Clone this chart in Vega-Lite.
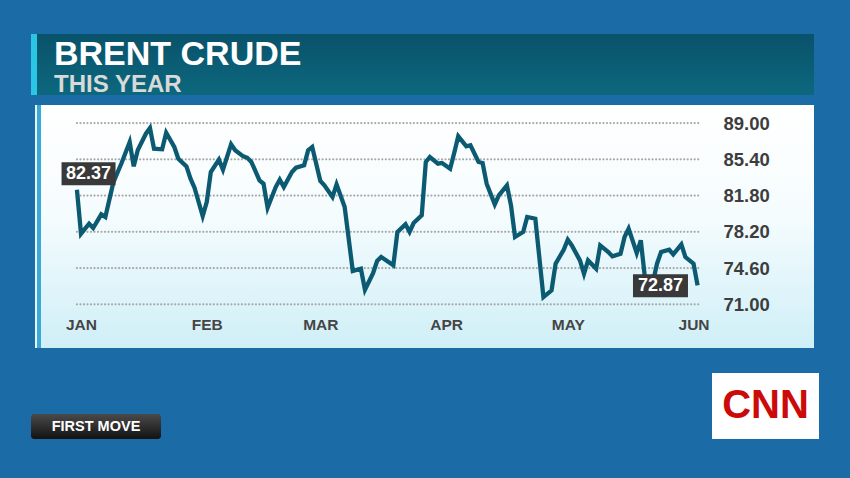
{
  "$schema": "https://vega.github.io/schema/vega-lite/v6.json",
  "background": "#1b6ca6",
  "padding": {"left": 31, "top": 34, "right": 40, "bottom": 50},
  "spacing": 8,
  "config": {
    "view": {"stroke": null},
    "font": "Liberation Sans"
  },
  "datasets": {
    "brent": [
      {"date": "2022-12-31", "price": 82.37},
      {"date": "2023-01-01", "price": 78.01},
      {"date": "2023-01-03", "price": 79.0},
      {"date": "2023-01-04", "price": 78.57},
      {"date": "2023-01-06", "price": 79.93},
      {"date": "2023-01-07", "price": 79.67},
      {"date": "2023-01-09", "price": 83.14},
      {"date": "2023-01-11", "price": 85.03},
      {"date": "2023-01-13", "price": 87.11},
      {"date": "2023-01-14", "price": 84.70},
      {"date": "2023-01-15", "price": 86.32},
      {"date": "2023-01-17", "price": 87.94},
      {"date": "2023-01-18", "price": 88.50},
      {"date": "2023-01-19", "price": 86.45},
      {"date": "2023-01-21", "price": 86.39},
      {"date": "2023-01-22", "price": 88.04},
      {"date": "2023-01-24", "price": 86.62},
      {"date": "2023-01-25", "price": 85.45},
      {"date": "2023-01-27", "price": 84.70},
      {"date": "2023-01-28", "price": 83.47},
      {"date": "2023-01-29", "price": 82.55},
      {"date": "2023-01-31", "price": 79.76},
      {"date": "2023-02-01", "price": 81.15},
      {"date": "2023-02-02", "price": 84.13},
      {"date": "2023-02-04", "price": 85.36},
      {"date": "2023-02-05", "price": 84.36},
      {"date": "2023-02-07", "price": 86.88},
      {"date": "2023-02-08", "price": 86.29},
      {"date": "2023-02-10", "price": 85.69},
      {"date": "2023-02-11", "price": 85.55},
      {"date": "2023-02-12", "price": 85.13},
      {"date": "2023-02-14", "price": 83.31},
      {"date": "2023-02-15", "price": 82.97},
      {"date": "2023-02-16", "price": 80.59},
      {"date": "2023-02-18", "price": 82.64},
      {"date": "2023-02-19", "price": 83.37},
      {"date": "2023-02-20", "price": 82.64},
      {"date": "2023-02-22", "price": 84.13},
      {"date": "2023-02-23", "price": 84.56},
      {"date": "2023-02-25", "price": 84.80},
      {"date": "2023-02-26", "price": 86.29},
      {"date": "2023-02-27", "price": 86.62},
      {"date": "2023-03-01", "price": 83.24},
      {"date": "2023-03-02", "price": 82.81},
      {"date": "2023-03-04", "price": 81.65},
      {"date": "2023-03-05", "price": 82.91},
      {"date": "2023-03-07", "price": 80.66},
      {"date": "2023-03-09", "price": 74.30},
      {"date": "2023-03-11", "price": 74.53},
      {"date": "2023-03-12", "price": 72.45},
      {"date": "2023-03-14", "price": 74.10},
      {"date": "2023-03-15", "price": 75.30},
      {"date": "2023-03-16", "price": 75.69},
      {"date": "2023-03-17", "price": 75.43},
      {"date": "2023-03-19", "price": 74.87},
      {"date": "2023-03-20", "price": 78.18},
      {"date": "2023-03-22", "price": 78.94},
      {"date": "2023-03-23", "price": 78.18},
      {"date": "2023-03-24", "price": 79.07},
      {"date": "2023-03-26", "price": 79.83},
      {"date": "2023-03-27", "price": 85.13},
      {"date": "2023-03-28", "price": 85.62},
      {"date": "2023-03-30", "price": 84.96},
      {"date": "2023-03-31", "price": 85.03},
      {"date": "2023-04-02", "price": 84.46},
      {"date": "2023-04-03", "price": 86.02},
      {"date": "2023-04-04", "price": 87.68},
      {"date": "2023-04-06", "price": 86.69},
      {"date": "2023-04-07", "price": 86.79},
      {"date": "2023-04-09", "price": 85.13},
      {"date": "2023-04-10", "price": 85.03},
      {"date": "2023-04-11", "price": 82.97},
      {"date": "2023-04-13", "price": 80.92},
      {"date": "2023-04-14", "price": 81.82},
      {"date": "2023-04-16", "price": 82.81},
      {"date": "2023-04-17", "price": 80.83},
      {"date": "2023-04-18", "price": 77.68},
      {"date": "2023-04-20", "price": 78.18},
      {"date": "2023-04-21", "price": 79.67},
      {"date": "2023-04-23", "price": 79.50},
      {"date": "2023-04-25", "price": 71.72},
      {"date": "2023-04-27", "price": 72.39},
      {"date": "2023-04-28", "price": 75.03},
      {"date": "2023-04-30", "price": 76.42},
      {"date": "2023-05-01", "price": 77.41},
      {"date": "2023-05-02", "price": 76.85},
      {"date": "2023-05-04", "price": 75.36},
      {"date": "2023-05-05", "price": 74.03},
      {"date": "2023-05-06", "price": 75.36},
      {"date": "2023-05-08", "price": 74.53},
      {"date": "2023-05-09", "price": 76.85},
      {"date": "2023-05-11", "price": 76.19},
      {"date": "2023-05-12", "price": 75.76},
      {"date": "2023-05-14", "price": 76.02},
      {"date": "2023-05-15", "price": 77.68},
      {"date": "2023-05-16", "price": 78.51},
      {"date": "2023-05-18", "price": 76.09},
      {"date": "2023-05-19", "price": 77.35},
      {"date": "2023-05-20", "price": 73.70},
      {"date": "2023-05-22", "price": 73.20},
      {"date": "2023-05-23", "price": 75.03},
      {"date": "2023-05-24", "price": 76.19},
      {"date": "2023-05-26", "price": 76.42},
      {"date": "2023-05-27", "price": 75.96},
      {"date": "2023-05-29", "price": 76.95},
      {"date": "2023-05-30", "price": 75.69},
      {"date": "2023-06-01", "price": 75.03},
      {"date": "2023-06-02", "price": 72.87}
    ],
    "grid": [{"v": 71}, {"v": 74.6}, {"v": 78.2}, {"v": 81.8}, {"v": 85.4}, {"v": 89}]
  },
  "vconcat": [
    {
      "spacing": 0,
      "hconcat": [
        {"width": 6, "height": 61, "view": {"fill": "#2ac6e6"}, "data": {"values": [{}]}, "mark": {"type": "text"}},
        {
          "width": 777, "height": 61,
          "view": {"fill": {"gradient": "linear", "x1": 0, "y1": 0, "x2": 0, "y2": 1, "stops": [{"offset": 0, "color": "#09526a"}, {"offset": 1, "color": "#0c687e"}]}},
          "data": {"values": [{}]},
          "mark": {"type": "text"},
          "title": {
            "text": "BRENT CRUDE", "subtitle": "THIS YEAR",
            "anchor": "start", "frame": "group", "orient": "top", "offset": -62, "dx": 17, "dy": 1,
            "font": "Liberation Sans", "fontSize": 34, "fontWeight": "bold", "color": "#ffffff",
            "subtitleFont": "Liberation Sans", "subtitleFontSize": 24, "subtitleFontWeight": "bold", "subtitleColor": "#d9d9d9", "subtitlePadding": 1
          }
        }
      ]
    },
    {
      "spacing": 0,
      "hconcat": [
        {"width": 4, "height": 243, "data": {"values": [{}]}, "mark": {"type": "text"}},
        {"width": 2, "height": 243, "view": {"fill": "#e6f7fb"}, "data": {"values": [{}]}, "mark": {"type": "text"}},
        {"width": 4, "height": 243, "view": {"fill": "#3aa9d8"}, "data": {"values": [{}]}, "mark": {"type": "text"}},
        {
          "width": 773, "height": 243,
          "view": {"fill": {"gradient": "linear", "x1": 0, "y1": 0, "x2": 0, "y2": 1, "stops": [{"offset": 0, "color": "#ffffff"}, {"offset": 0.45, "color": "#f5fcfe"}, {"offset": 1, "color": "#cfeff7"}]}},
          "layer": [
            {
              "data": {"name": "grid"},
              "mark": {"type": "rule", "color": "#a8a8a8", "strokeWidth": 2.2, "strokeCap": "round", "strokeDash": [0.01, 3.5]},
              "encoding": {
                "y": {"field": "v", "type": "quantitative", "title": null},
                "x": {"datum": {"year": 2022, "month": 12, "date": 31, "utc": true}, "type": "temporal", "title": null},
                "x2": {"datum": {"year": 2023, "month": 6, "date": 2, "hours": 12, "utc": true}}
              }
            },
            {
              "data": {"name": "brent"},
              "mark": {"type": "line", "color": "#0b5a72", "strokeWidth": 4.3},
              "encoding": {
                "x": {"field": "date", "type": "temporal", "title": null,
                      "scale": {"type": "utc", "domain": [{"year": 2022, "month": 12, "date": 22, "hours": 3, "minutes": 20, "utc": true}, {"year": 2023, "month": 6, "date": 30, "hours": 16, "minutes": 48, "utc": true}]},
                      "axis": {"orient": "bottom", "offset": -19, "title": null, "domain": false, "ticks": false, "tickSize": 0, "grid": false,
                               "labelFont": "Liberation Sans", "labelFontSize": 15.5, "labelFontWeight": "bold", "labelColor": "#454545", "labelPadding": 0, "labelBaseline": "alphabetic", "labelFlush": false, "labelOverlap": false,
                               "values": [{"year": 2023, "month": 1, "date": 1, "utc": true}, {"year": 2023, "month": 2, "date": 1, "utc": true}, {"year": 2023, "month": 3, "date": 1, "utc": true}, {"year": 2023, "month": 4, "date": 1, "utc": true}, {"year": 2023, "month": 5, "date": 1, "utc": true}, {"year": 2023, "month": 6, "date": 1, "utc": true}],
                               "labelExpr": "upper(utcFormat(datum.value, '%b'))"}},
                "y": {"field": "price", "type": "quantitative", "title": null,
                      "scale": {"domain": [66.66, 90.79], "nice": false, "zero": false},
                      "axis": {"orient": "right", "offset": -91, "title": null, "domain": false, "ticks": false, "tickSize": 0, "grid": false,
                               "labelFont": "Liberation Sans", "labelFontSize": 18.5, "labelFontWeight": "bold", "labelColor": "#3d3d3d", "labelPadding": 0, "labelAlign": "left", "labelFlush": false, "labelOverlap": false,
                               "values": [71, 74.6, 78.2, 81.8, 85.4, 89], "format": ".2f"}}
              }
            },
            {
              "data": {"values": [{"date": "2022-12-31", "price": 82.37}]},
              "mark": {"type": "rect", "width": 54, "height": 23, "xOffset": 11.6, "yOffset": -16.1, "color": "#393939"},
              "encoding": {"x": {"field": "date", "type": "temporal", "title": null}, "y": {"field": "price", "type": "quantitative", "title": null}}
            },
            {
              "data": {"values": [{"date": "2022-12-31", "price": 82.37}]},
              "mark": {"type": "text", "xOffset": 11.6, "yOffset": -16.1, "align": "center", "baseline": "middle", "color": "#ffffff", "fontSize": 18, "fontWeight": "bold", "font": "Liberation Sans"},
              "encoding": {"x": {"field": "date", "type": "temporal", "title": null}, "y": {"field": "price", "type": "quantitative", "title": null}, "text": {"field": "price", "type": "quantitative", "format": ".2f"}}
            },
            {
              "data": {"values": [{"date": "2023-06-02", "price": 72.87}]},
              "mark": {"type": "rect", "width": 55, "height": 23, "xOffset": -37.1, "yOffset": 0.3, "color": "#393939"},
              "encoding": {"x": {"field": "date", "type": "temporal", "title": null}, "y": {"field": "price", "type": "quantitative", "title": null}}
            },
            {
              "data": {"values": [{"date": "2023-06-02", "price": 72.87}]},
              "mark": {"type": "text", "xOffset": -37.1, "yOffset": 0.3, "align": "center", "baseline": "middle", "color": "#ffffff", "fontSize": 18, "fontWeight": "bold", "font": "Liberation Sans"},
              "encoding": {"x": {"field": "date", "type": "temporal", "title": null}, "y": {"field": "price", "type": "quantitative", "title": null}, "text": {"field": "price", "type": "quantitative", "format": ".2f"}}
            }
          ]
        }
      ]
    },
    {
      "spacing": 551,
      "hconcat": [
        {
          "spacing": 0,
          "vconcat": [
            {"width": 1, "height": 58, "data": {"values": [{}]}, "mark": {"type": "text"}},
            {
              "width": 130, "height": 25,
              "view": {"fill": {"gradient": "linear", "x1": 0, "y1": 0, "x2": 0, "y2": 1, "stops": [{"offset": 0, "color": "#4a4a4a"}, {"offset": 1, "color": "#121212"}]}, "cornerRadius": 3},
              "data": {"values": [{"t": "FIRST MOVE"}]},
              "mark": {"type": "text", "color": "#ffffff", "fontSize": 14.5, "fontWeight": "bold", "font": "Liberation Sans"},
              "encoding": {"text": {"field": "t"}}
            }
          ]
        },
        {
          "spacing": 0,
          "vconcat": [
            {"width": 1, "height": 17, "data": {"values": [{}]}, "mark": {"type": "text"}},
            {
              "width": 107, "height": 66,
              "view": {"fill": "#ffffff"},
              "data": {"values": [{"t": "CNN"}]},
              "mark": {"type": "text", "color": "#cc0a0a", "fontSize": 40, "fontWeight": "bold", "font": "Liberation Sans"},
              "encoding": {"text": {"field": "t"}}
            }
          ]
        }
      ]
    }
  ]
}
